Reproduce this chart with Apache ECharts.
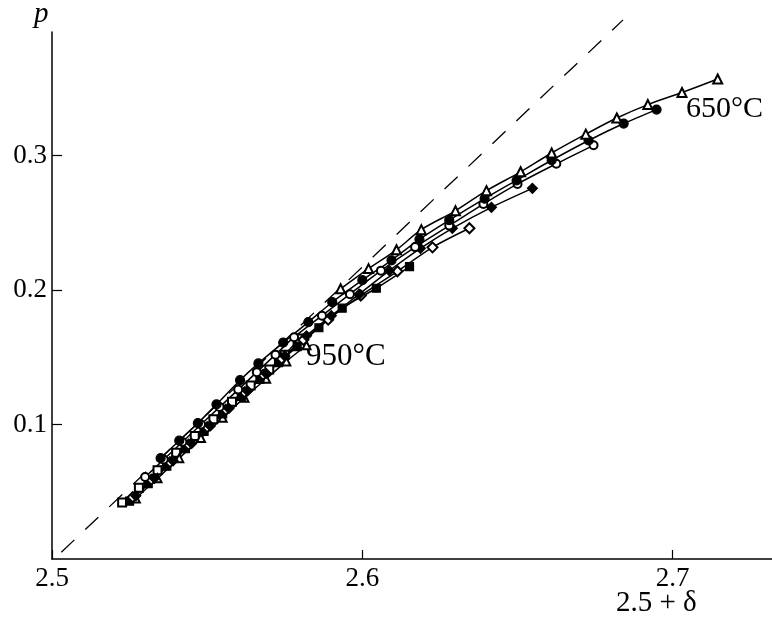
<!DOCTYPE html>
<html>
<head>
<meta charset="utf-8">
<script src="https://cdn.jsdelivr.net/npm/echarts@6/dist/echarts.min.js"></script>
<style>
  html, body { margin: 0; padding: 0; background: #fff; }
  #chart { width: 772px; height: 623px; }
</style>
</head>
<body>
<div id="chart"></div>
<script>
// x = 2.5 + delta, y = p ; one array pair per isotherm
var x650 = [2.593, 2.602, 2.611, 2.619, 2.630, 2.640, 2.651, 2.661, 2.672, 2.682, 2.692, 2.703, 2.7145];
var y650 = [0.201, 0.216, 0.230, 0.245, 0.259, 0.274, 0.288, 0.302, 0.316, 0.328, 0.338, 0.347, 0.357];

var x700 = [2.535, 2.541, 2.547, 2.553, 2.5606, 2.5665, 2.5745, 2.5826, 2.5903, 2.600, 2.6094, 2.6184, 2.628, 2.6394, 2.6497, 2.661, 2.6729, 2.6842, 2.6948];
var y700 = [0.075, 0.088, 0.101, 0.115, 0.133, 0.1455, 0.161, 0.1762, 0.191, 0.2074, 0.2222, 0.2378, 0.252, 0.268, 0.2817, 0.2966, 0.3113, 0.3239, 0.3343];

var x750 = [2.530, 2.536, 2.542, 2.548, 2.554, 2.560, 2.566, 2.572, 2.578, 2.587, 2.596, 2.606, 2.617, 2.628, 2.639, 2.650, 2.6625, 2.6745];
var y750 = [0.061, 0.074, 0.087, 0.100, 0.113, 0.126, 0.139, 0.152, 0.165, 0.181, 0.197, 0.2145, 0.232, 0.248, 0.264, 0.279, 0.294, 0.3077];

var x800 = [2.527, 2.533, 2.539, 2.545, 2.551, 2.557, 2.563, 2.569, 2.575, 2.582, 2.590, 2.599, 2.6087, 2.6187, 2.629, 2.6416, 2.6548];
var y800 = [0.047, 0.060, 0.073, 0.086, 0.099, 0.112, 0.125, 0.138, 0.151, 0.166, 0.181, 0.197, 0.2145, 0.2311, 0.246, 0.2616, 0.2757];

var x850 = [2.526, 2.532, 2.538, 2.544, 2.550, 2.556, 2.562, 2.568, 2.574, 2.581, 2.589, 2.5995, 2.6113, 2.6226, 2.6345];
var y850 = [0.046, 0.059, 0.072, 0.085, 0.098, 0.111, 0.124, 0.137, 0.149, 0.163, 0.178, 0.196, 0.214, 0.2318, 0.246];

var x900 = [2.525, 2.531, 2.537, 2.543, 2.549, 2.555, 2.561, 2.567, 2.573, 2.579, 2.586, 2.5935, 2.6045, 2.6152];
var y900 = [0.043, 0.056, 0.069, 0.082, 0.095, 0.108, 0.121, 0.1335, 0.146, 0.158, 0.172, 0.1866, 0.2014, 0.2175];

var x900b = [2.527, 2.534, 2.541, 2.548, 2.555, 2.562, 2.569, 2.5755, 2.582];
var y900b = [0.045, 0.060, 0.075, 0.090, 0.105, 0.120, 0.134, 0.147, 0.159];

var x950 = [2.5226, 2.528, 2.534, 2.540, 2.546, 2.552, 2.558, 2.564, 2.570, 2.575, 2.5797];
var y950 = [0.042, 0.053, 0.066, 0.079, 0.0915, 0.104, 0.117, 0.129, 0.141, 0.152, 0.164];

var xDash = [2.503, 2.684];
var yDash = [0.005, 0.401];

var xTicks = [2.5, 2.6, 2.7];
var yTicks = [0.1, 0.2, 0.3];

function pairs(xs, ys) {
    return xs.map(function (x, i) { return [x, ys[i]]; });
}

function curve(name, xs, ys, symbol, size) {
    return {
        name: name,
        type: 'line',
        smooth: 0.3,
        data: pairs(xs, ys),
        symbol: symbol,
        symbolSize: size,
        showAllSymbol: true,
        lineStyle: {color: '#000', width: 1.5},
        itemStyle: {color: '#000', borderColor: '#000', borderWidth: 1.2},
        emphasis: {disabled: true}
    };
}

var chart = echarts.init(document.getElementById('chart'), null, {renderer: 'canvas'});
var option = {
    animation: false,
    backgroundColor: '#fff',
    textStyle: {fontFamily: 'Liberation Serif'},
    grid: {left: 52, right: 0, top: 32, bottom: 64, containLabel: false},
    xAxis: {
        type: 'value',
        min: 2.5,
        max: 2.732,
        interval: 0.1,
        splitLine: {show: false},
        axisLine: {lineStyle: {color: '#000', width: 1.5}},
        axisTick: {inside: true, length: 9, lineStyle: {color: '#000', width: 1.2}},
        axisLabel: {
            color: '#000', fontSize: 27, fontFamily: 'Liberation Serif', margin: 6,
            showMaxLabel: false,
            formatter: function (v) { return xTicks.indexOf(+v.toFixed(3)) >= 0 ? v.toFixed(1) : ''; }
        }
    },
    yAxis: {
        type: 'value',
        min: 0,
        max: 0.392,
        interval: 0.1,
        splitLine: {show: false},
        axisLine: {lineStyle: {color: '#000', width: 1.5}},
        axisTick: {inside: true, length: 10, lineStyle: {color: '#000', width: 1.2}},
        axisLabel: {
            color: '#000', fontSize: 27, fontFamily: 'Liberation Serif', margin: 5,
            showMinLabel: false, showMaxLabel: false,
            formatter: function (v) { return yTicks.indexOf(+v.toFixed(3)) >= 0 ? v.toFixed(1) : ''; }
        }
    },
    series: [
        {
            name: 'ideal',
            type: 'line',
            data: pairs(xDash, yDash),
            symbol: 'none',
            clip: false,
            lineStyle: {color: '#000', width: 1.3, type: [18, 15]},
            emphasis: {disabled: true}
        },
        curve('950', x950, y950, 'emptyRect', 8),
        curve('900b', x900b, y900b, 'emptyTriangle', 8),
        curve('900', x900, y900, 'rect', 8),
        curve('850', x850, y850, 'emptyDiamond', 10),
        curve('800', x800, y800, 'diamond', 10),
        curve('750', x750, y750, 'emptyCircle', 8),
        curve('700', x700, y700, 'circle', 9),
        curve('650', x650, y650, 'emptyTriangle', 9)
    ],
    graphic: [
        {type: 'text', left: 34, top: 0, style: {text: 'p', font: 'italic 29px "Liberation Serif"', fill: '#000'}},
        {type: 'text', left: 616, top: 589, style: {text: '2.5 + δ', font: '29px "Liberation Serif"', fill: '#000'}},
        {type: 'text', left: 686, top: 94, style: {text: '650°C', font: '30px "Liberation Serif"', fill: '#000'}},
        {type: 'text', left: 306, top: 341, style: {text: '950°C', font: '31px "Liberation Serif"', fill: '#000'}}
    ]
};
chart.setOption(option);
</script>
</body>
</html>
